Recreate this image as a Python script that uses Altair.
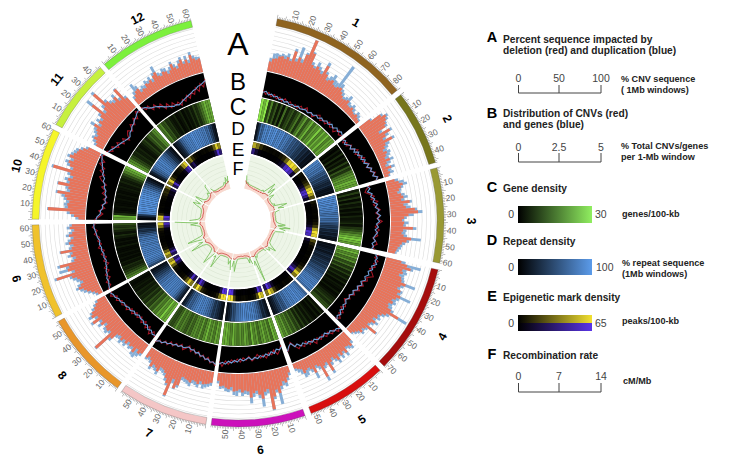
import math
import altair as alt
import pandas as pd

alt.data_transformers.disable_max_rows()

CHR_NAMES = ["1","2","3","4","5","6","7","8","6","10","11","12"]
CHR_LEN = [85,47,61,72,53,59,57,57,62,60,47,62]
CHR_START = [11,52.2,75,103.7,136.4,161,189,215.8,242.2,270.5,297.9,319.5]
CHR_END = [50.6,73.5,101.8,134.8,159.2,187.5,214.3,240.8,268.9,296.3,318.1,346.8]
CHR_COL = ["#8f6420","#77761c","#999933","#a50d0d","#d80f0f","#cc11bb","#f4c6c6","#e8962a","#f0c22c","#f5f52a","#c6f03e","#7cf03c"]
LABEL_TH = [30.8,64,90,119.5,148,174.4,202.8,228.7,255.4,284,308,333.6]
LABEL_R = [231,233,233,235,234,230,230,234,229,228,230,226]

A_RED = [
[22,30,32,38,40,36,42,35,60,38,50,40,62,100,70,45,40,48,42,36,60,42,30,34,38,30,28,32,35,28,22,18,20,24,15,14,18,12,10,14,10,8],
[30,55,65,60,55,50,30,55,40,30,50,30,25,18,25,20,15,25,15,10,22,12,15,10],
[20,28,36,30,25,20,28,32,26,45,30,35,55,62,40,30,25,30,28,50,28,25,30,48,38,28,24,20,18,16],
[35,50,60,42,45,38,45,48,60,50,45,55,50,60,52,45,50,42,45,55,78,50,42,35,38,30,40,32,28,55,30,25,30,22,18,14],
[25,35,30,28,40,32,38,30,42,35,28,36,55,30,35,60,30,25,40,28,22,25,30,18,15,12],
[15,25,35,30,40,55,45,60,88,40,45,60,50,40,45,55,40,38,42,35,38,40,30,35,32,28,30,18],
[25,28,30,32,26,34,30,28,35,32,30,28,50,60,40,82,55,45,35,30,28,40,34,30,38,25,20,25],
[25,30,22,35,25,28,22,30,25,32,25,28,45,85,35,40,38,30,42,35,55,38,50,45,35,28,20],
[10,15,22,30,35,45,38,30,35,40,50,85,40,55,50,70,35,30,40,35,62,35,30,40,35,28,38,30,25,35,30],
[15,25,35,85,40,42,38,45,50,68,40,45,70,45,50,40,48,90,45,55,60,50,62,55,50,48,40,30],
[18,22,30,25,30,35,45,30,40,35,45,75,40,50,88,55,45,40,50,35,62,30],
[15,22,28,30,18,22,20,28,25,30,22,35,40,28,25,32,30,22,28,40,30,25,35,42,30,38,28,45,35,30,32],
]
A_BLUE = [
[30,42,44,42,46,44,50,40,66,45,74,48,66,100,74,52,46,58,50,44,68,48,38,44,52,42,40,90,45,35,30,24,28,36,24,20,26,20,14,22,18,12],
[34,60,70,66,58,56,38,60,48,38,56,40,34,28,34,30,25,34,25,18,30,20,24,14],
[28,40,46,36,30,28,36,42,34,50,40,46,60,72,52,36,30,40,34,58,36,34,38,70,44,36,30,28,24,20],
[45,82,66,52,55,50,52,55,83,58,52,60,58,85,60,55,58,52,55,62,100,58,50,42,46,38,48,40,34,58,36,32,36,28,24,18],
[32,42,38,34,48,38,46,38,50,42,36,44,62,38,42,70,38,32,54,36,30,38,40,30,24,18],
[22,32,44,40,48,80,52,66,90,50,54,78,58,48,54,68,48,46,50,42,50,48,38,42,40,34,36,24],
[32,35,38,42,34,42,38,36,44,40,38,36,56,62,50,85,60,52,42,38,36,48,42,38,45,32,28,30],
[32,38,45,42,32,35,30,38,34,40,34,36,52,87,42,48,45,38,50,42,60,46,58,50,42,34,26],
[16,22,30,38,44,52,46,38,44,50,56,90,48,75,58,76,42,38,48,42,64,42,38,48,42,35,45,38,32,42,36],
[22,32,42,87,48,50,46,52,58,72,48,52,72,52,58,48,55,94,52,62,68,58,68,62,58,55,46,36],
[24,30,36,32,38,42,55,38,48,42,52,90,48,58,95,62,52,48,58,42,64,36],
[22,30,47,38,26,30,28,36,32,38,30,42,55,36,32,40,38,30,36,46,38,32,42,48,36,47,36,52,42,38,36],
]
B_RED = [
[1.4,0.7,1.2,0.5,1.1,0.4,0.9,0.3,1.0,0.4,0.8,0.2,0.7,0.3,1.0,0.5,1.3,0.6,0.9,0.3,1.1,1.5,0.7,1.2,0.8,1.7,1.0,1.4,0.8,1.9,1.2,1.6],
[1.7,0.9,1.6,1.1,2.0,1.4,1.9,2.6,1.7,2.4,2.0,3.0,2.3,2.8,3.3,2.5,3.4,2.9,3.8,3.2,4.0,3.4],
[2.0,1.2,0.8,1.6,2.4,1.7,2.9,2.0,2.6,3.2,2.3,3.0,2.5,3.5,2.7,2.2,3.0,2.4,2.8,1.9,2.5,2.9,2.1,2.6],
[3.6,3.0,3.8,3.1,3.6,2.7,3.4,3.9,2.8,3.2,2.3,2.9,2.0,2.7,1.7,2.3,1.4,2.0,1.1,1.7,2.2,1.5,2.6,2.0,2.9,2.2],
[3.8,4.5,3.6,4.1,3.2,3.8,3.0,3.6,2.9,3.8,2.7,3.3,2.3,3.1,2.5,3.0,2.2,1.2,2.0,2.7],
[1.0,1.9,2.5,1.5,2.3,1.8,2.7,2.0,2.5,1.7,2.4,2.8,1.9,2.6,2.1,2.9,2.3,3.0,2.5,3.4,2.8,3.9,3.0],
[4.0,3.2,3.6,2.6,3.2,2.4,2.9,2.0,2.6,1.8,2.5,1.5,2.2,2.7,1.8,2.5,2.1,2.9,2.3,3.2,2.7,3.5,3.1,3.9],
[3.3,2.5,3.5,2.2,3.0,2.0,2.8,1.9,2.6,2.0,2.9,2.2,3.2,2.6,3.3,2.8,3.7,3.1,4.2,3.6],
[4.0,3.1,3.7,2.6,3.3,2.3,3.0,1.9,2.7,2.0,2.8,2.1,3.1,2.4,3.0,2.6,3.5,2.9,3.8,3.2],
[3.4,2.5,1.8,2.6,1.5,2.2,1.2,2.0,1.4,2.4,1.9,2.8,2.0,3.1,3.7,2.9,4.0,3.3,4.6,3.8,5.0,4.3],
[4.4,3.3,3.9,2.7,3.5,2.2,3.0,1.8,2.7,3.2,2.4,3.6,2.9,4.0,3.3,4.6,3.9],
[4.5,3.5,3.9,2.6,3.4,2.2,2.8,1.4,2.2,1.0,1.8,0.9,1.4,0.5,1.5,0.9,1.9,1.1,2.1,1.5,2.7,1.8,3.2,2.4,3.8],
]
B_BLUE = [
[1.0,1.3,0.7,1.0,0.6,0.9,0.4,0.7,0.3,0.6,0.2,0.5,0.3,0.7,0.4,0.6,0.8,0.5,0.9,0.7,1.1,0.8,1.3,1.0,1.5,1.2,1.7,1.3,1.9,1.5,2.0,1.7],
[1.2,1.6,1.0,1.5,1.9,1.4,2.2,1.7,2.5,2.0,2.7,2.2,2.9,2.4,3.2,2.6,3.4,3.0,3.6,3.1,3.9,3.5],
[1.5,1.9,1.3,2.1,1.7,2.4,2.0,2.8,2.3,3.0,2.5,3.2,2.6,3.0,2.4,2.8,2.2,2.7,2.3,2.0,2.5,1.9,2.3,2.0],
[3.0,3.5,3.2,3.7,2.9,3.3,2.6,3.0,2.4,2.8,2.1,2.6,1.9,2.3,1.6,2.0,1.5,1.8,1.4,1.9,1.6,2.2,1.8,2.5,2.1,2.6],
[4.3,3.8,3.9,3.3,3.6,3.0,3.4,3.1,3.3,2.8,3.1,2.6,2.9,2.3,2.7,2.0,2.3,1.4,1.8,2.6],
[1.4,1.8,1.5,2.2,1.7,2.3,1.9,2.4,2.0,2.5,2.2,2.6,2.1,2.4,2.7,2.3,2.9,2.6,3.1,2.8,3.4,3.1,3.5],
[3.7,3.3,3.4,2.9,3.1,2.6,2.7,2.2,2.4,2.0,2.1,1.8,2.0,2.3,2.1,2.5,2.3,2.7,2.6,3.0,2.9,3.4,3.3,3.7],
[2.9,3.1,2.6,2.9,2.3,2.6,2.2,2.3,2.0,2.5,2.2,2.7,2.5,2.9,2.7,3.2,3.1,3.6,3.6,4.0],
[3.7,3.5,3.2,3.3,2.9,2.9,2.5,2.5,2.2,2.5,2.3,2.6,2.5,2.8,2.6,3.0,3.1,3.3,3.5,3.5],
[3.1,2.9,2.3,2.3,1.9,2.0,1.5,1.7,1.5,1.9,1.8,2.3,2.3,2.8,2.7,3.3,3.3,3.8,4.0,4.4,4.6,5.0],
[4.0,3.8,3.4,3.2,2.9,2.7,2.4,2.2,2.1,2.6,2.7,3.1,3.2,3.6,3.8,4.2,4.4],
[4.2,4.0,3.4,3.1,2.9,2.6,2.2,1.8,1.5,1.3,1.0,1.1,0.8,1.0,1.2,1.4,1.6,1.8,2.0,2.3,2.4,2.8,2.9,3.2,3.5],
]
C_GENE = [
[22,18,24,8,14,6,10,4,9,3,12,5,8,10,6,9,13,7,12,16,10,14,18,12,16,15,20,14,18,15,19,14,17,16],
[3,1,4,2,6,2,5,3,8,4,10,7,12,14,16,15,18,17,16],
[4,8,3,7,2,6,3,5,2,4,2,5,3,4,6,3,7,9,12,15,18,20,18,16],
[16,18,14,16,12,15,9,12,7,10,5,8,4,6,3,5,2,4,3,2,4,2,3,5,6,8,6,9,10],
[3,5,2,4,2,3,5,3,6,4,8,5,10,8,12,10,14,12,16,14,17],
[16,18,12,16,14,17,15,12,16,14,18,12,15,17,14,16,13,15,18,14,16,18,17],
[15,17,13,16,14,18,15,12,16,13,15,14,11,13,10,12,14,12,15,11,9,10],
[18,16,20,15,17,13,15,10,12,8,10,6,8,5,6,4,5,3,4,3,2,3],
[14,12,9,7,5,6,3,4,2,3,2,3,2,2,4,2,3,2,4,6,3,5,8,7,10],
[16,18,6,3,2,3,2,2,3,2,3,2,3,4,3,5,4,6,9,13,16,18],
[16,14,10,8,5,6,4,5,3,4,6,8,5,9,12,10,14,15],
[12,14,9,10,6,7,4,3,5,2,3,5,2,4,3,6,4,8,6,9,12,15,18,16,17],
]
D_REPEAT = [
[10,25,60,50,70,75,65,80,70,75,80,65,75,70,78,60,70,65,55,60,45,50,40,45,35,30,35,20,25,15,20,10,12,8],
[70,75,65,70,60,65,55,45,50,35,40,30,25,20,25,15,10,12,8],
[75,80,72,78,70,75,70,72,68,60,65,70,55,60,45,40,30,35,20,25,15,20,12,10],
[8,12,10,15,18,12,20,25,18,22,30,25,35,30,40,45,40,50,55,60,55,65,70,72,68,75,70,72,60],
[55,65,70,75,70,78,72,75,68,72,70,60,65,50,45,50,35,30,20,15,10],
[10,15,25,20,40,50,60,65,72,68,75,70,72,78,70,65,60,55,40,45,25,15,10],
[8,12,20,25,35,30,45,55,60,65,70,72,68,75,70,65,60,50,55,40,25,15],
[15,25,40,55,65,70,72,68,75,70,72,65,70,60,62,50,45,35,30,20,15,10],
[40,55,65,68,72,75,70,72,68,70,72,70,65,70,68,62,65,55,50,35,25,30,15,12,8],
[5,10,30,72,80,78,82,75,80,78,82,76,80,75,70,72,60,50,40,25,15,8],
[10,20,40,55,60,70,72,68,75,70,65,60,50,45,30,25,15,8],
[8,15,20,30,50,60,65,70,72,68,75,78,72,75,70,72,68,65,70,55,60,40,30,15,10],
]
E_YELLOW = [
[42,30,12,5,3,2,3,2,5,10,25,50,58,50,25],
[5,3,4,8,15,30,50,55,40,20],
[6,3,2,1,2,1,3,6,15,40,55,50],
[20,8,3,2,1,2,1,2,4,10,25,50,30],
[4,2,2,3,1,2,4,15,40,55,30],
[45,55,20,5,2,1,2,4,3,2,3,20,55,60],
[55,60,30,8,3,2,1,2,5,10,35,55,30],
[30,50,25,8,3,2,1,3,6,25,50,35],
[30,45,25,6,3,2,1,1,2,3,8,30,50],
[45,50,10,2,1,2,1,1,2,4,8,12,10,25],
[30,50,20,6,2,3,5,10,35,50],
[20,30,12,4,2,1,2,3,2,5,8,25,50,35],
]
E_PURPLE = [
[30,12,3,1,1,0,1,1,3,8,20,45,52,42,12],
[3,1,1,4,10,25,45,48,30,10],
[3,1,0,0,1,0,1,3,10,30,50,45],
[12,3,1,0,0,1,0,1,2,6,20,45,20],
[2,1,0,1,0,1,2,10,35,52,20],
[35,50,10,2,1,0,1,2,1,1,1,12,50,58],
[50,58,20,3,1,1,0,1,2,6,30,50,20],
[20,45,15,4,1,1,0,1,3,20,45,25],
[20,40,15,3,1,1,0,0,1,1,5,25,45],
[40,50,6,1,0,1,0,0,1,2,4,8,6,18],
[20,45,12,3,1,1,2,6,30,45],
[12,22,6,2,1,0,1,1,1,3,5,20,48,28],
]
F_RED = [
[3.6,2.2,2.2,1.4,1.1,1.1,0.9,0.9,0.7,0.9,0.8,1.0,0.8,1.1,1.0,1.4,1.3,1.9,2.4,2.2,2.7,2.4],
[2.0,1.4,1.1,1.0,0.9,1.0,1.0,1.3,1.3,1.7,2.2,1.9,2.2,1.7],
[1.7,1.0,0.8,0.7,0.7,0.6,0.8,0.7,0.9,0.8,1.0,1.3,1.6,1.9,2.4,1.9,1.7],
[1.7,1.1,1.0,0.9,0.8,0.7,0.9,0.8,0.8,1.0,1.0,1.4,1.8,2.3,1.9,1.7],
[1.8,1.1,0.9,0.8,0.7,0.8,0.8,0.9,1.1,1.5,1.9,2.5,2.2,2.0],
[2.5,1.8,1.3,1.0,0.9,0.7,0.8,0.9,0.7,0.7,0.8,0.8,1.0,1.5,2.1,2.3,1.9],
[2.3,2.1,1.6,1.1,0.9,0.8,0.7,0.8,0.8,0.9,1.1,1.5,2.3,2.1,1.8],
[2.0,2.4,1.6,1.1,0.9,0.8,0.7,0.8,0.9,1.2,1.7,2.3,2.0,1.8],
[1.8,2.3,1.6,1.0,0.8,0.7,0.7,0.6,0.7,0.8,0.9,1.0,1.5,2.2,1.9,1.7],
[2.2,1.6,1.0,0.8,0.7,0.8,0.7,0.7,0.8,1.0,1.3,1.8,2.3,2.1,2.0],
[1.9,2.3,1.5,1.1,0.9,1.0,1.1,1.4,2.1,2.5,2.2],
[2.2,1.6,1.2,1.0,0.8,0.9,0.8,1.0,0.8,0.9,1.0,1.2,1.7,2.4,2.7,2.8,3.6],
]
F_GREEN = [
[4.5,0.8,1.4,0.6,0.4,0.5,0.3,0.4,0.3,0.4,0.3,0.5,0.4,0.6,0.5,1.4,0.8,3.2,7.2,2.0,5.6,1.5],
[1.2,3.5,0.8,0.5,0.4,0.4,0.6,0.5,1.8,0.8,4.0,7.0,2.5,5.2],
[2.8,0.6,0.5,0.3,0.3,0.4,0.3,0.4,0.3,0.6,0.8,2.0,5.0,1.5,7.5,2.5,5.5],
[5.0,1.0,0.6,0.4,0.3,0.4,0.3,0.4,0.4,0.6,0.7,2.0,5.2,1.5,3.0,1.0],
[1.8,0.6,0.4,0.3,0.4,0.3,0.4,0.5,0.8,2.0,1.0,13.6,3.0,5.0],
[4.0,1.0,3.2,0.7,0.4,0.3,0.3,0.4,0.3,0.3,0.4,0.5,0.7,2.5,6.5,1.5,4.5],
[6.0,1.5,3.5,0.8,0.5,0.4,0.3,0.4,0.4,0.5,0.7,3.0,7.8,2.0,3.0],
[1.5,4.5,8.0,2.0,0.6,0.4,0.3,0.4,0.6,1.0,2.5,8.6,2.0,4.0],
[1.5,4.0,8.5,1.5,0.5,0.4,0.3,0.3,0.3,0.4,0.5,0.6,2.2,5.0,1.5,12.5],
[5.5,1.5,0.6,0.4,0.3,0.4,0.3,0.3,0.5,0.7,1.2,3.5,5.5,2.0,5.0],
[1.5,5.6,1.5,0.7,0.5,0.6,0.8,2.2,1.2,5.0,5.6],
[2.5,0.8,0.5,0.4,0.3,0.4,0.3,0.5,0.4,0.5,0.6,0.8,2.0,1.0,4.0,1.5,4.4],
]

W, H = 724, 450
CX, CY = 230, 213

TH = alt.Scale(domain=[0, 360], range=[0, 2 * math.pi])
XS = alt.Scale(domain=[-CX, W - CX], range=[0, W])
YS = alt.Scale(domain=[-CY, H - CY], range=[0, H])
ID = alt.Scale(domain=[0, 300], range=[0, 300])


def binned(lists):
    rows = []
    for c, vals in enumerate(lists):
        t0, t1 = CHR_START[c], CHR_END[c]
        n = len(vals)
        for j, v in enumerate(vals):
            rows.append({"c": c, "t0": t0 + (t1 - t0) * j / n, "t1": t0 + (t1 - t0) * (j + 1) / n, "v": v})
    return pd.DataFrame(rows)


def pointed(lists):
    rows = []
    for c, vals in enumerate(lists):
        t0, t1 = CHR_START[c], CHR_END[c]
        n = len(vals)
        for j, v in enumerate(vals):
            rows.append({"c": c, "i": j, "t": t0 + (t1 - t0) * j / (n - 1), "v": v})
    return pd.DataFrame(rows)


chrom = pd.DataFrame({"t0": CHR_START, "t1": CHR_END, "col": CHR_COL, "name": CHR_NAMES})


def band(r0, r1, color, df=chrom):
    return alt.Chart(df).mark_arc(radius=r1, radius2=r0, color=color).encode(
        x=alt.value(CX), y=alt.value(CY),
        theta=alt.Theta("t0:Q", scale=TH, stack=False), theta2="t1:Q")


def hist(lists, color):
    return alt.Chart(binned(lists)).mark_arc(color=color).encode(
        x=alt.value(CX), y=alt.value(CY),
        theta=alt.Theta("t0:Q", scale=TH, stack=False), theta2="t1:Q",
        radius=alt.Radius("v:Q", scale=alt.Scale(domain=[0, 100], range=[153, 197])),
        radius2=alt.Radius2(datum=0))


def heat(lists, r0, r1, dom, hi, exp=1.0):
    return alt.Chart(binned(lists)).mark_arc(radius=r1, radius2=r0).encode(
        x=alt.value(CX), y=alt.value(CY),
        theta=alt.Theta("t0:Q", scale=TH, stack=False), theta2="t1:Q",
        color=alt.Color("v:Q", scale=alt.Scale(type="pow", exponent=exp, domain=[0, dom], range=["#000000", hi],
                                               clamp=True, interpolate="rgb"), legend=None))


def polyline(lists, base, k, color, sw):
    return alt.Chart(pointed(lists)).transform_calculate(
        r=f"{base}+datum.v*{k}",
        px="datum.r*sin(datum.t*PI/180)",
        py="-datum.r*cos(datum.t*PI/180)",
    ).mark_line(color=color, strokeWidth=sw, interpolate="linear").encode(
        x=alt.X("px:Q", scale=XS, axis=None),
        y=alt.Y("py:Q", scale=YS, axis=None),
        detail="c:N", order="i:Q")


layers = []

for i in range(1, 11):
    r = 153 + i * 4.4
    layers.append(band(r, r + 0.6, "#dcdcdc"))
layers += [hist(A_BLUE, "#86aed6"), hist(A_RED, "#e8745a")]

layers.append(band(126, 152, "#000000"))
layers.append(polyline(B_RED, 126, 5.2, "#a01525", 1.1))
layers.append(polyline(B_BLUE, 126, 5.2, "#6f9fd8", 1.1))
layers.append(band(102, 124.8, "#000000"))
layers.append(heat(C_GENE, 102, 124.8, 22, "#8ee84a", 1.3))
layers.append(band(82, 100.5, "#000000"))
layers.append(heat(D_REPEAT, 82, 100.5, 85, "#5b9bea", 1.0))
layers.append(band(68.5, 80.3, "#000000"))
layers.append(heat(E_YELLOW, 74.4, 80.3, 55, "#f2e030", 1.1))
layers.append(heat(E_PURPLE, 68.5, 74.4, 55, "#5a35e8", 1.1))

layers.append(band(33, 66.5, "#edf5e7"))
for r in [38, 42.5, 47, 51.5, 56, 60.5]:
    layers.append(band(r, r + 0.5, "#dbe6d3"))
layers.append(band(33, 38, "#f9d8cf"))
layers.append(polyline(F_GREEN, 37, 2.1, "#72bd52", 0.8))
layers.append(polyline(F_RED, 34, 2.0, "#c8453a", 0.8))

layers.append(alt.Chart(chrom).mark_arc(radius=206, radius2=199, stroke="#555555", strokeWidth=0.3).encode(
    x=alt.value(CX), y=alt.value(CY),
    theta=alt.Theta("t0:Q", scale=TH, stack=False), theta2="t1:Q",
    color=alt.Color("col:N", scale=None)))

tick_rows, lab_rows = [], []
for c in range(12):
    t0, t1, L = CHR_START[c], CHR_END[c], CHR_LEN[c]
    for mb in range(0, L + 1):
        t = t0 + (t1 - t0) * mb / L
        major = mb % 5 == 0
        tick_rows.append({"t0": t - 0.07, "t1": t + 0.07, "r": 210 if major else 208})
        if mb % 10 == 0 and mb > 0:
            right = t < 180
            lab_rows.append({"t": t, "label": str(mb), "ang": (t - 90) if right else (t + 90) % 360, "right": right})
ticks = pd.DataFrame(tick_rows)
labs = pd.DataFrame(lab_rows)
layers.append(alt.Chart(ticks).mark_arc(radius2=206, color="#888888").encode(
    x=alt.value(CX), y=alt.value(CY),
    theta=alt.Theta("t0:Q", scale=TH, stack=False), theta2="t1:Q",
    radius=alt.Radius("r:Q", scale=ID)))
for flag, al in [(True, "left"), (False, "right")]:
    layers.append(alt.Chart(labs[labs.right == flag]).mark_text(
        align=al, baseline="middle", fontSize=8.5, color="#666666", font="Liberation Sans", radius=209).encode(
        x=alt.value(CX), y=alt.value(CY),
        theta=alt.Theta("t:Q", scale=TH, stack=False),
        angle=alt.Angle("ang:Q", scale=None),
        text="label:N"))

chr_labels = pd.DataFrame({"t": LABEL_TH, "r": LABEL_R, "name": CHR_NAMES})
chr_labels["ang"] = [(t % 360 if (t <= 90 or t >= 270) else (t + 180) % 360) for t in LABEL_TH]
layers.append(alt.Chart(chr_labels).mark_text(
    fontSize=12, fontWeight="bold", color="#000000", align="center", baseline="middle", font="Liberation Sans").encode(
    x=alt.value(CX), y=alt.value(CY),
    theta=alt.Theta("t:Q", scale=TH, stack=False),
    radius=alt.Radius("r:Q", scale=ID),
    angle=alt.Angle("ang:Q", scale=None),
    text="name:N"))


def txt(x, y, s, size=9.5, bold=True, align="left", color="#222222"):
    return alt.Chart().mark_text(
        fontSize=size, fontWeight="bold" if bold else "normal", align=align, baseline="alphabetic",
        color=color, font="Liberation Sans").encode(
        x=alt.value(x - 8), y=alt.value(y - 8), text=alt.value(s))


def rule(x0, x1, y0, y1):
    return alt.Chart().mark_rule(color="#444444", strokeWidth=1).encode(
        x=alt.value(x0 - 8), x2=alt.value(x1 - 8), y=alt.value(y0 - 8), y2=alt.value(y1 - 8))


def grad(x0, x1, y0, y1, hi):
    g = alt.Gradient(gradient="linear", x1=0, x2=1, y1=0, y2=0,
                     stops=[alt.GradientStop(color="#000000", offset=0), alt.GradientStop(color=hi, offset=1)])
    return alt.Chart().mark_rect(color=g).encode(
        x=alt.value(x0 - 8), x2=alt.value(x1 - 8), y=alt.value(y0 - 8), y2=alt.value(y1 - 8))


def axis_bar(y_lab, y_top, y_axis, labels):
    xs = [518.5, 559, 601]
    out = [rule(xs[0], xs[2], y_axis, y_axis)]
    for x, s in zip(xs, labels):
        out.append(rule(x, x, y_top, y_axis))
        out.append(txt(x, y_lab, s, 10.5, False, "center", "#444444"))
    return out


for s, y, fs in [("A", 55, 32), ("B", 90, 24), ("C", 115, 23), ("D", 135, 19), ("E", 156, 19), ("F", 175, 18)]:
    layers.append(txt(238, y, s, fs, False, "center", "#000000"))

for s, y in [("A", 42), ("B", 118), ("C", 192), ("D", 245), ("E", 301), ("F", 359)]:
    layers.append(txt(492, y, s, 14.5, True, "center", "#000000"))
for s, y in [("Percent sequence impacted by", 43), ("deletion (red) and duplication (blue)", 54),
             ("Distribution of CNVs (red)", 117), ("and genes (blue)", 128), ("Gene density", 192),
             ("Repeat density", 245), ("Epigenetic mark density", 301), ("Recombination rate", 359)]:
    layers.append(txt(503, y, s, 10.2))
layers += axis_bar(82, 85, 93, ["0", "50", "100"])
layers += axis_bar(151, 153, 162, ["0", "2.5", "5"])
layers += axis_bar(380, 383, 392, ["0", "7", "14"])
for s, x, y in [("% CNV sequence", 621, 82), ("( 1Mb windows)", 621, 93),
                ("% Total CNVs/genes", 621, 149), ("per 1-Mb window", 621, 160),
                ("genes/100-kb", 622, 217), ("% repeat sequence", 622, 266), ("(1Mb windows)", 622, 277),
                ("peaks/100-kb", 622, 324), ("cM/Mb", 623, 384)]:
    layers.append(txt(x, y, s, 9.1))
layers.append(grad(518, 592, 206, 223, "#90ee60"))
layers.append(grad(518, 592, 259, 275, "#5b9bea"))
layers.append(grad(518, 592, 315, 323, "#f2e030"))
layers.append(grad(518, 592, 323, 331, "#5a35e8"))
for s, x, y, al in [("0", 514, 218, "right"), ("30", 595, 218, "left"),
                    ("0", 514, 271, "right"), ("100", 596, 271, "left"),
                    ("0", 514, 327, "right"), ("65", 595, 327, "left")]:
    layers.append(txt(x, y, s, 10.5, False, al, "#444444"))

chart = alt.layer(*layers).resolve_scale(radius="independent", color="independent").properties(
    width=W, height=H, padding=0, autosize="none"
).configure_view(stroke=None)

chart.save("out.html", embed_options={"renderer": "svg", "actions": False})
